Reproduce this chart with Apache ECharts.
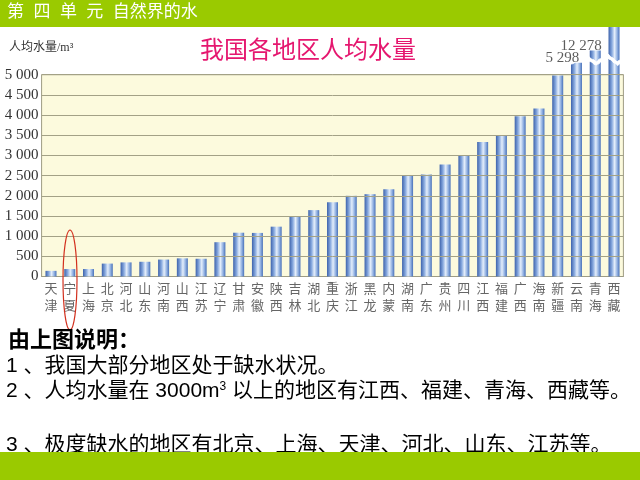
<!DOCTYPE html>
<html><head><meta charset="utf-8">
<script src="https://cdn.jsdelivr.net/npm/echarts@6/dist/echarts.min.js"></script>
<style>html,body{margin:0;padding:0;background:#fff}#c{width:640px;height:480px}</style>
</head><body><div id="c"></div>
<script>
const regions = ['天津','宁夏','上海','北京','河北','山东','河南','山西','江苏','辽宁','甘肃','安徽','陕西','吉林','湖北','重庆','浙江','黑龙','内蒙','湖南','广东','贵州','四川','江西','福建','广西','海南','新疆','云南','青海','西藏'];
const waterPerCapita = [140,185,185,320,350,365,420,450,440,850,1085,1080,1235,1480,1645,1840,2000,2040,2160,2505,2530,2775,2990,3335,3500,3970,4165,4980,5298,12278,152000];
const labeledRegions = ['云南','青海'];
const yTicks = [0,500,1000,1500,2000,2500,3000,3500,4000,4500,5000];
const headerText = '第  四  单  元  自然界的水';
const chartTitle = '我国各地区人均水量';
const yUnit = '人均水量/m³';
const notes = ['由上图说明：','1 、我国大部分地区处于缺水状况。','2 、人均水量在 3000m{sup|3} 以上的地区有江西、福建、青海、西藏等。','3 、极度缺水的地区有北京、上海、天津、河北、山东、江苏等。'];

const fmt = v => String(v).replace(/\B(?=(\d{3})+(?!\d))/g, ' ');
const GREEN = '#9aca00';
const sans = '"Liberation Sans","Noto Sans CJK SC",sans-serif';
const serif = '"Liberation Serif","Noto Sans CJK SC",serif';
const yMax = yTicks[yTicks.length-1];

const chart = echarts.init(document.getElementById('c'), null, {renderer:'canvas'});
const barGrad = new echarts.graphic.LinearGradient(0,0,1,0,[
  {offset:0,color:'#3d62ab'},{offset:0.3,color:'#86a8de'},{offset:0.55,color:'#e4eefb'},{offset:0.8,color:'#8eaee0'},{offset:1,color:'#4870b8'}
]);
const tickLabelStyle = {fontSize:15,color:'#333',fontFamily:serif};

chart.setOption({
  animation:false,
  title:[
    {text:chartTitle,left:303,top:34,z:300,textAlign:'center',textStyle:{color:'#e5176f',fontSize:24,fontWeight:'normal',fontFamily:sans}},
    {text:yUnit,left:4,top:37,z:300,textStyle:{color:'#333',fontSize:12,fontWeight:'normal',fontFamily:serif}}
  ],
  grid:{left:41.6,right:16.6,top:27,bottom:203.5},
  xAxis:{type:'category',data:regions,
    axisLine:{show:true,lineStyle:{color:'#8f8d74'}},axisTick:{show:false},
    axisLabel:{interval:0,margin:5,fontSize:13,lineHeight:17,color:'#666',fontFamily:serif,formatter:s=>s.split('').join('\n')}},
  yAxis:{type:'value',min:0,max:12860,interval:500,
    breaks:[{start:5330,end:12100,gap:'1.5%'}],
    breakArea:{itemStyle:{color:'#fff',borderColor:'#fff',opacity:1},expandOnClick:false},
    breakLabelLayout:{moveOverlap:false},
    axisLine:{show:false},axisTick:{show:false},splitLine:{show:false},
    axisLabel:Object.assign({margin:3,hideOverlap:false,formatter:v=>v<yMax?fmt(v):''},tickLabelStyle)},
  series:[
    {type:'line',data:[],z:1,silent:true,
      markArea:{silent:true,itemStyle:{color:'#fcfadd',borderColor:'#9e9c84',borderWidth:1},data:[[{yAxis:yTicks[0]},{yAxis:yMax}]]},
      markLine:{silent:true,symbol:'none',label:{show:false},lineStyle:{color:'#a3a186',type:'solid',width:1},
        data:yTicks.slice(1).map(v=>v===yMax
          ?{yAxis:v,label:Object.assign({show:true,position:'start',distance:3,formatter:fmt(v)},tickLabelStyle)}
          :{yAxis:v})}
    },
    {type:'bar',z:3,barWidth:11,data:waterPerCapita,itemStyle:{color:barGrad}},
    {type:'scatter',z:300,silent:true,symbolSize:0,
      data:labeledRegions.map(r=>[r,waterPerCapita[regions.indexOf(r)]]),
      label:{show:true,position:'top',distance:1,offset:[-14,4],fontSize:15,color:'#333',fontFamily:serif,formatter:p=>fmt(p.value[1])}
    }
  ],
  graphic:[
    {type:'rect',left:0,top:0,z:400,shape:{width:640,height:27},style:{fill:GREEN}},
    {type:'text',left:7,top:4,z:401,style:{text:headerText,fill:'#fff',font:'17px '+sans}},
    {type:'ellipse',z:350,shape:{cx:70,cy:280,rx:7,ry:50},style:{fill:'none',stroke:'#d2301e',lineWidth:1.2}},
    {type:'text',left:8,top:330,z:360,style:{text:notes[0],fill:'#000',font:'bold 22px '+sans}},
    {type:'text',left:6,top:356,z:360,style:{text:notes[1],fill:'#000',font:'21px '+sans}},
    {type:'text',left:6,top:381,z:360,style:{text:notes[2],fill:'#000',font:'21px '+sans,rich:{sup:{fontSize:12,verticalAlign:'top',padding:[0,0,9,0],fill:'#000',fontFamily:sans}}}},
    {type:'text',left:6,top:435,z:360,style:{text:notes[3],fill:'#000',font:'21px '+sans}},
    {type:'rect',left:0,top:452,z:400,shape:{width:640,height:28},style:{fill:GREEN}}
  ]
});
</script></body></html>
